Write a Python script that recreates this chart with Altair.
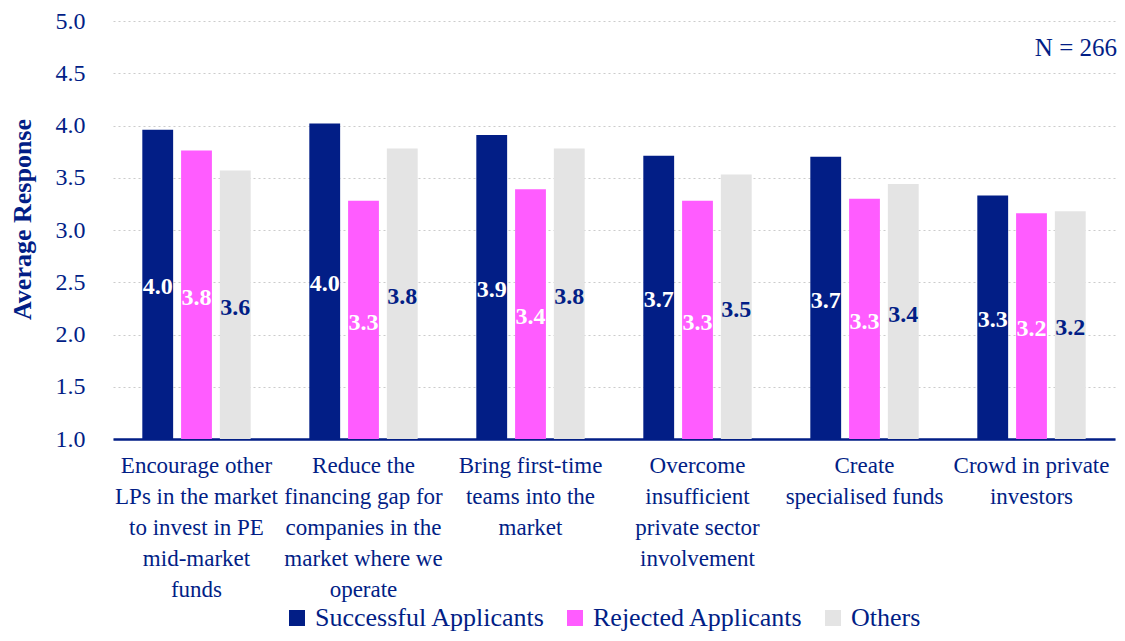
import altair as alt
import pandas as pd

categories = [
    "Encourage other\nLPs in the market\nto invest in PE\nmid-market\nfunds",
    "Reduce the\nfinancing gap for\ncompanies in the\nmarket where we\noperate",
    "Bring first-time\nteams into the\nmarket",
    "Overcome\ninsufficient\nprivate sector\ninvolvement",
    "Create\nspecialised funds",
    "Crowd in private\ninvestors",
]
series = ["Successful Applicants", "Rejected Applicants", "Others"]
successful = [3.96, 4.02, 3.91, 3.71, 3.70, 3.33]
rejected = [3.76, 3.28, 3.39, 3.28, 3.30, 3.16]
others = [3.57, 3.78, 3.78, 3.53, 3.44, 3.18]
colors = ["#021E86", "#FF5CFF", "#E4E4E4"]
note = "N = 266"

rows = []
for s, vals in zip(series, [successful, rejected, others]):
    for c, v in zip(categories, vals):
        rows.append({"Category": c, "Series": s, "Value": v})
df = pd.DataFrame(rows)

NAVY = "#021E86"
FONT = "Liberation Serif"

x = alt.X("Category:N", sort=categories,
          scale=alt.Scale(paddingInner=0, paddingOuter=0),
          axis=alt.Axis(title=None, labelAngle=0, labelExpr="split(datum.value, '\\n')",
                        labelFontSize=23, labelColor=NAVY, labelFont=FONT,
                        labelLineHeight=31, labelPadding=15, labelBaseline="top",
                        ticks=False, domain=True, domainColor=NAVY, domainWidth=2.5,
                        grid=False, labelLimit=300))
xoff = alt.XOffset("Series:N", sort=series,
                   scale=alt.Scale(paddingInner=0.205, paddingOuter=0.756))
y = alt.Y("Value:Q",
          scale=alt.Scale(domain=[1, 5], zero=False, nice=False),
          axis=alt.Axis(title="Average Response", values=[1, 1.5, 2, 2.5, 3, 3.5, 4, 4.5, 5],
                        format=".1f", labelFontSize=24, labelColor=NAVY, labelFont=FONT,
                        labelPadding=28, ticks=False, domain=False,
                        grid=True, gridColor="#CCCCCC", gridDash=[2, 3], gridWidth=1.2,
                        titleFont=FONT, titleFontSize=26, titleColor=NAVY, titleFontWeight="bold",
                        titleX=-91, titleY=198, titleAlign="center", titleBaseline="middle",
                        titleAngle=270))

base = alt.Chart(df)

bars = base.mark_bar().encode(
    x=x, xOffset=xoff, y=y, y2=alt.datum(1),
    color=alt.Color("Series:N", sort=series,
                    scale=alt.Scale(domain=series, range=colors),
                    legend=alt.Legend(title=None, orient="none", direction="horizontal",
                                      legendX=171, legendY=584,
                                      symbolType="square", symbolSize=256,
                                      symbolStrokeWidth=0, symbolOpacity=1,
                                      labelFontSize=26, labelColor=NAVY, labelFont=FONT,
                                      labelOffset=5, columnPadding=16, labelLimit=400)),
)

labels = base.transform_calculate(
    mid="(datum.Value + 1) / 2",
    lab="format(datum.Value, '.1f')",
).mark_text(font=FONT, fontSize=24, fontWeight="bold", baseline="middle", dy=3).encode(
    x=x, xOffset=xoff,
    y=alt.Y("mid:Q", scale=alt.Scale(domain=[1, 5], zero=False, nice=False)),
    text="lab:N",
    color=alt.condition("datum.Series == 'Others'", alt.value(NAVY), alt.value("white")),
)

ntext = alt.Chart(pd.DataFrame({"t": [note]})).mark_text(
    font=FONT, fontSize=25, align="right", baseline="middle", color=NAVY
).encode(x=alt.value(1004), y=alt.value(27), text="t:N")

chart = alt.layer(bars, labels, ntext).properties(
    width=1002, height=418,
    autosize=alt.AutoSizeParams(type="none"),
    padding={"left": 105, "top": 13, "right": 2, "bottom": 194},
).configure_view(stroke=None)

chart.save("out.html", embed_options={"renderer": "svg", "actions": False})
